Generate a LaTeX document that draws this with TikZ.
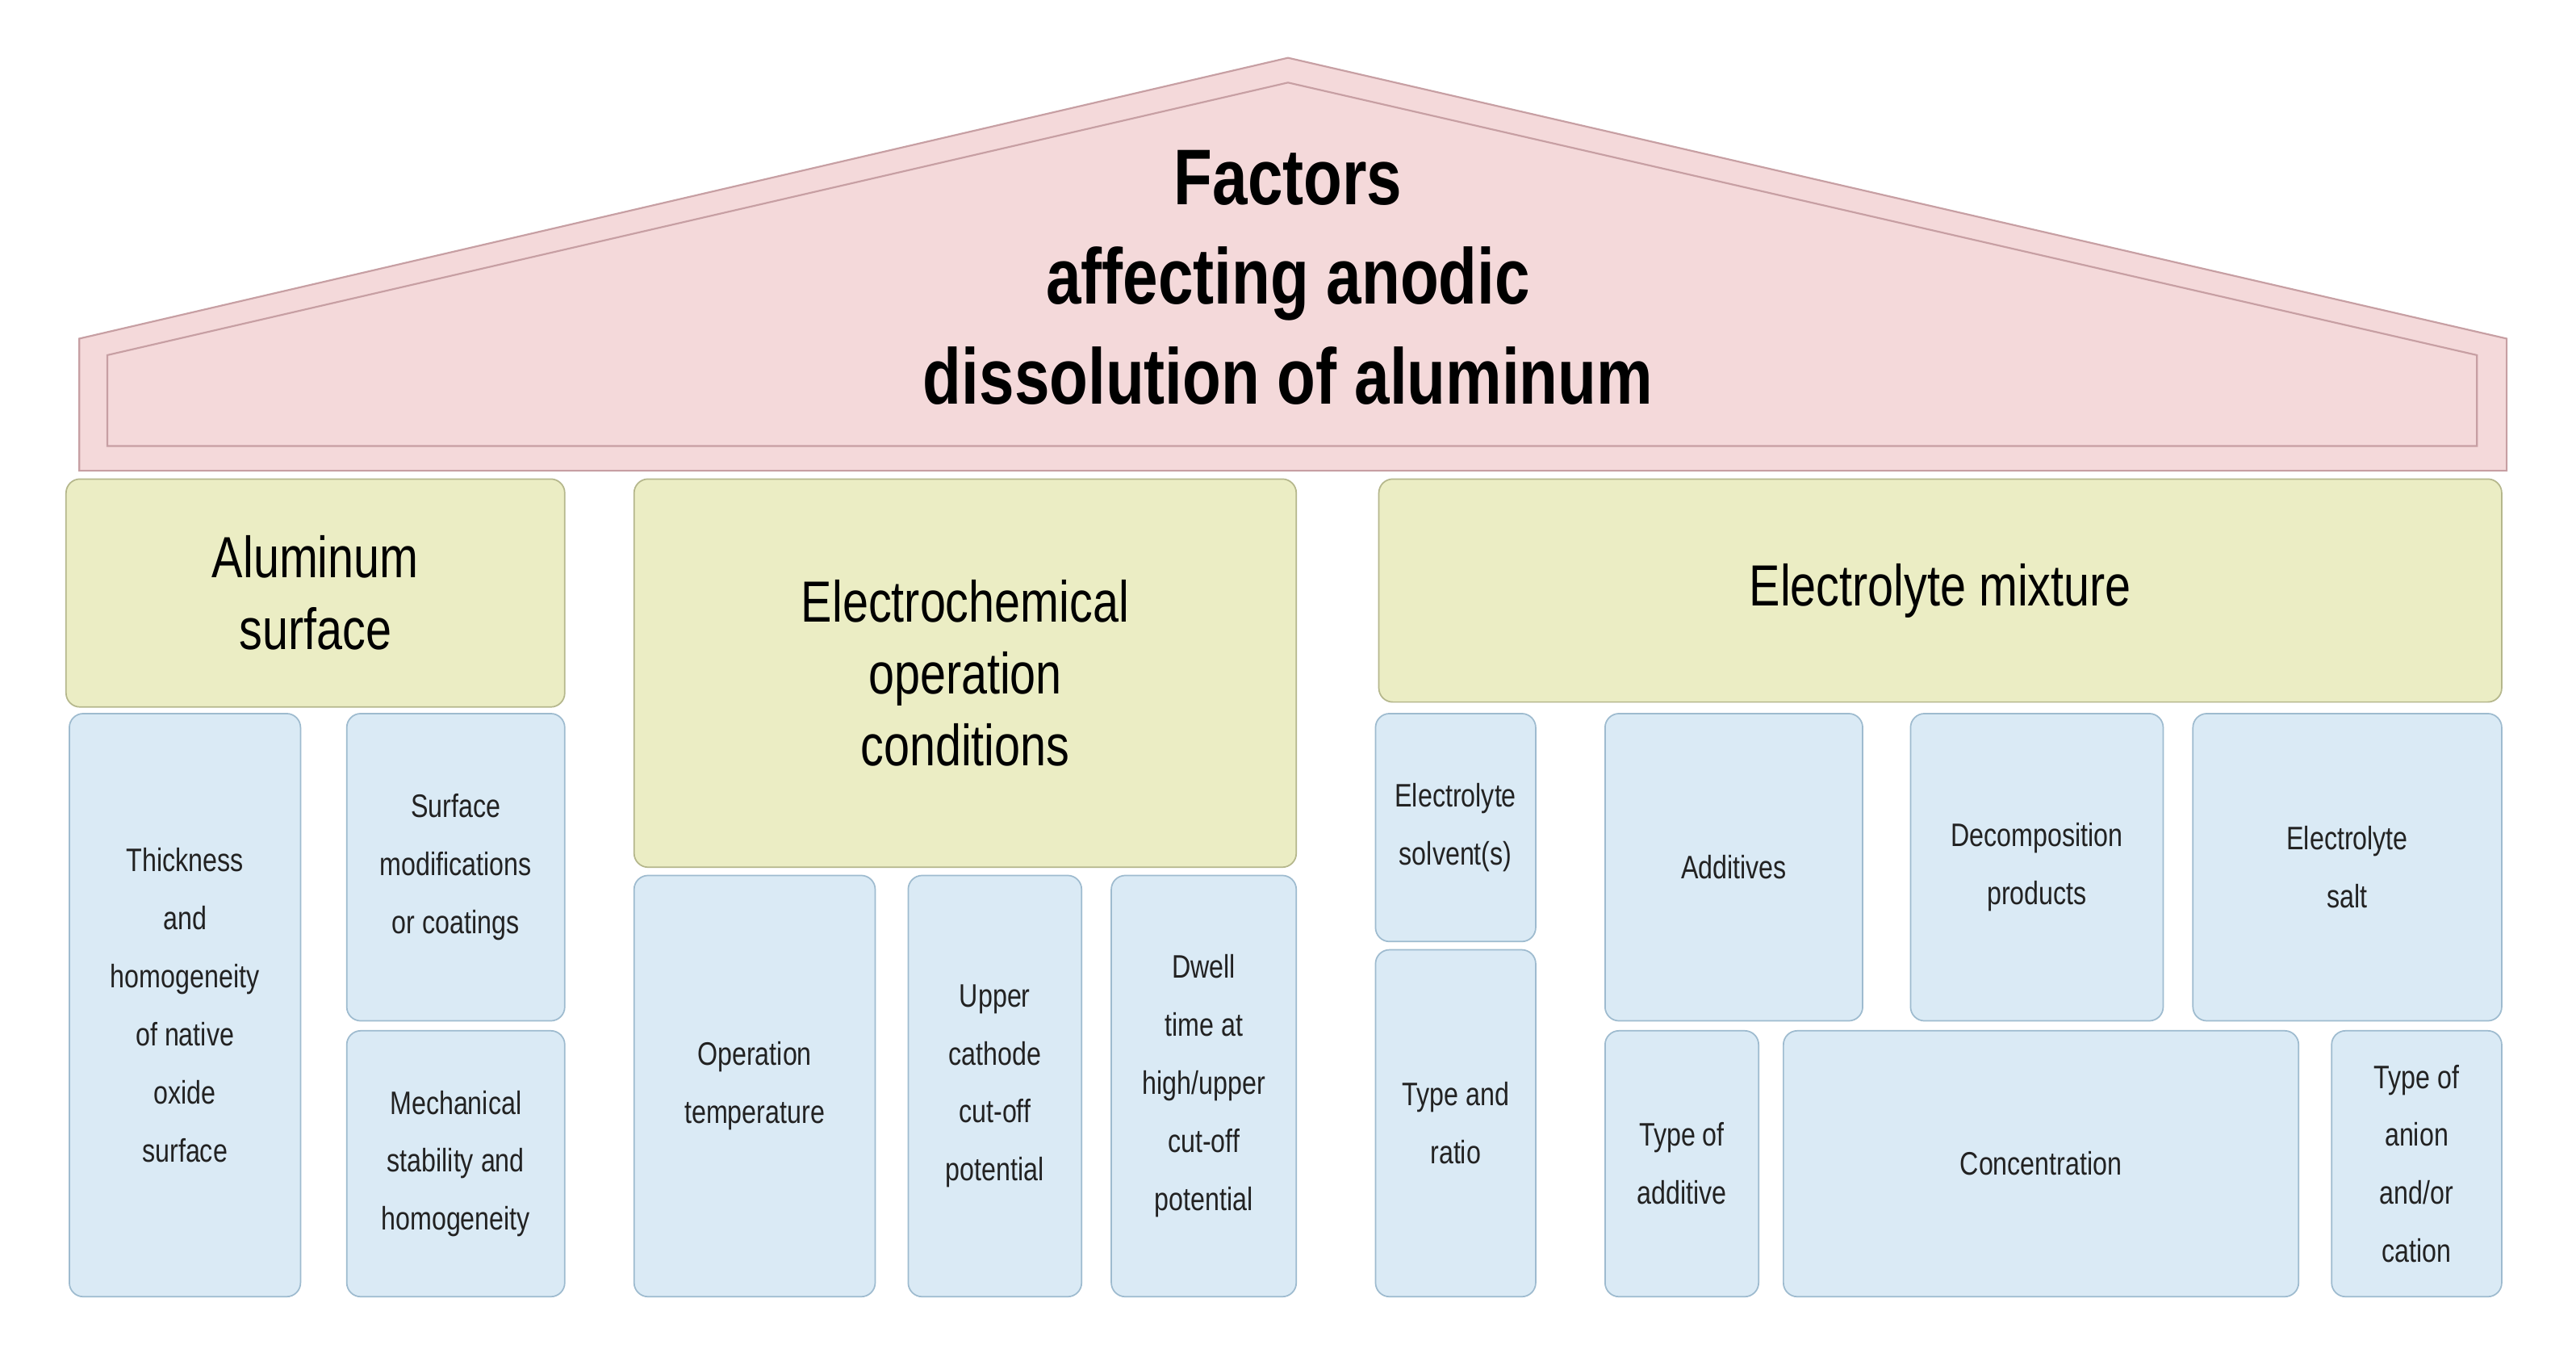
\documentclass[tikz,border=0pt]{standalone}
\usepackage{fontspec}
\setmainfont{Liberation Sans}[FakeStretch=0.8]
\definecolor{roofF}{HTML}{F4D9DA}
\definecolor{roofD}{HTML}{C79FA3}
\definecolor{hdF}{HTML}{EBEDC4}
\definecolor{hdD}{HTML}{B5B78C}
\definecolor{blF}{HTML}{DAEAF5}
\definecolor{blD}{HTML}{9EBBCF}
\definecolor{txt}{HTML}{222222}
\newcommand{\mybx}[7]{\node[#1,minimum width={(#4-#2)*0.05cm},minimum height={(#5-#3)*0.05cm}] (#6) at ({(#2+#4)/2},{(#3+#5)/2}) {#7};}
\tikzset{
 hd/.style={draw=hdD,fill=hdF,line width=1.2pt,rounded corners=12pt,align=center,inner sep=0pt,
   font=\fontsize{50}{62}\selectfont,text=black},
 bl/.style={draw=blD,fill=blF,line width=1.2pt,rounded corners=12pt,align=center,inner sep=0pt,
   font=\fontsize{28}{50}\selectfont,text=txt},
}
\begin{document}
\begin{tikzpicture}[x=0.05cm,y=-0.05cm]
\useasboundingbox[fill=white] (0,0) rectangle (1560,819);
\draw[draw=roofD,fill=roofF,line width=1.5pt] (48,285) -- (48,205) -- (780,35) -- (1518,205) -- (1518,285) -- cycle;
\draw[draw=roofD,line width=1.5pt] (65,270) -- (65,215) -- (780,50) -- (1500,215) -- (1500,270) -- cycle;
\node[align=center,font=\fontsize{68}{86}\selectfont\bfseries] (title) at (780,168) {Factors\\affecting anodic\\dissolution of aluminum};
\mybx{hd}{40}{290}{342}{428}{alu}{Aluminum\\surface}
\mybx{hd}{384}{290}{785}{525}{ech}{Electrochemical\\operation\\conditions}
\mybx{hd}{835}{290}{1515}{425}{ely}{Electrolyte mixture}
\mybx{bl}{42}{432}{182}{785}{thk}{Thickness\\and\\homogeneity\\of native\\oxide\\surface}
\mybx{bl}{210}{432}{342}{618}{smod}{Surface\\modifications\\or coatings}
\mybx{bl}{210}{624}{342}{785}{mech}{Mechanical\\stability and\\homogeneity}
\mybx{bl}{384}{530}{530}{785}{otemp}{Operation\\temperature}
\mybx{bl}{550}{530}{655}{785}{ucc}{Upper\\cathode\\cut-off\\potential}
\mybx{bl}{673}{530}{785}{785}{dwell}{Dwell\\time at\\high/upper\\cut-off\\potential}
\mybx{bl}{833}{432}{930}{570}{solv}{Electrolyte\\solvent(s)}
\mybx{bl}{833}{575}{930}{785}{tr}{Type and\\ratio}
\mybx{bl}{972}{432}{1128}{618}{add}{Additives}
\mybx{bl}{1157}{432}{1310}{618}{dec}{Decomposition\\products}
\mybx{bl}{1328}{432}{1515}{618}{salt}{Electrolyte\\salt}
\mybx{bl}{972}{624}{1065}{785}{toa}{Type of\\additive}
\mybx{bl}{1080}{624}{1392}{785}{conc}{Concentration}
\mybx{bl}{1412}{624}{1515}{785}{anion}{Type of\\anion\\and/or\\cation}
\end{tikzpicture}
\end{document}
